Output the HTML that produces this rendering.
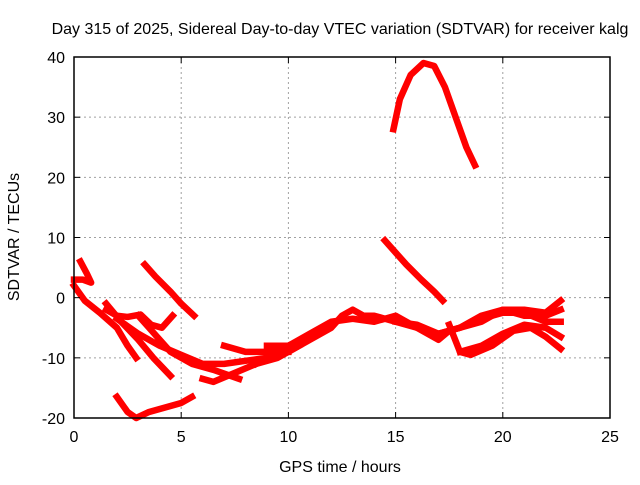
<!DOCTYPE html>
<html><head><meta charset="utf-8"><style>
body{margin:0;background:#fff}
svg text{font-family:"Liberation Sans",sans-serif;font-size:16px;fill:#000}
</style></head><body>
<svg id="chart" width="640" height="480">
<text x="340" y="34" text-anchor="middle">Day 315 of 2025, Sidereal Day-to-day VTEC variation (SDTVAR) for receiver kalg</text>
<text x="340" y="472" text-anchor="middle">GPS time / hours</text>
<text transform="translate(19,237) rotate(-90)" text-anchor="middle">SDTVAR / TECUs</text>
<g id="grid"></g><g id="series"></g><g id="axes"></g>
</svg>
<script>
const xTicks=[0,5,10,15,20,25];
const yTicks=[-20,-10,0,10,20,30,40];
const s1=[[14.9,28],[15.2,33],[15.7,37],[16.3,39],[16.8,38.5],[17.3,35],[17.8,30],[18.3,25],[18.7,22]];
const s2=[[14.5,9.5],[15,7.5],[15.5,5.5],[16.2,3],[16.8,1],[17.2,-0.5]];
const s3=[[3.3,5.5],[3.8,3.5],[4.5,1],[5,-1],[5.6,-3]];
const s4=[[0.3,6],[0.6,4],[0.8,2.5],[0.4,3],[0,3]];
const s5=[[0,2],[0.5,-0.5],[1.2,-2.5],[2,-5],[2.5,-8],[2.9,-10]];
const s6=[[1.5,-2],[2,-3],[2.5,-3.2],[3.1,-2.8],[3.6,-4.5],[4.1,-5],[4.6,-3]];
const s7=[[1.5,-1],[2.2,-4],[3,-7],[3.7,-10],[4.5,-13]];
const s8=[[3,-3],[3.5,-5],[4,-7],[4.5,-9],[5.5,-11],[6.5,-12],[7.7,-13.5]];
const s9=[[2,-3.5],[3,-6],[4,-8],[5,-9.5],[6,-11],[7,-11],[8,-10.5],[9,-10],[10,-8]];
const s10=[[6,-13.5],[6.5,-14],[7.5,-12.5],[8.5,-11],[9.5,-10],[10.5,-8]];
const s11=[[2,-16.5],[2.5,-19],[2.9,-20],[3.5,-19],[4.5,-18],[5,-17.5],[5.5,-16.5]];
const s12=[[8.5,-11],[9,-10],[10,-9],[11,-7],[12,-5],[12.5,-3],[13,-2],[13.5,-3],[14,-3],[15,-4],[16,-5],[16.5,-6],[17,-7],[17.5,-5.5],[18,-5],[19,-4],[20,-2],[21,-2],[22,-2.5],[22.7,-0.5]];
const s13=[[9,-8],[10,-8],[11,-6],[12,-4],[13,-3.5],[14,-4],[15,-3],[16,-5],[17,-6],[18,-5],[19,-3],[20,-2],[21,-3],[22,-3],[22.7,-2]];
const s14=[[15,-4],[16,-4.5],[17,-6],[18,-5],[19,-3.5],[20,-2.5],[21,-2.5],[22,-4],[22.7,-4]];
const s15=[[17.5,-4.5],[18,-9],[18.5,-9.5],[19.5,-8],[20.5,-5.5],[21.3,-5],[22,-6.5],[22.7,-8.5]];
const s16=[[18,-9],[19,-8],[20,-6],[21,-4.5],[22,-5],[22.7,-6.5]];
const s17=[[7,-8],[8,-9],[9,-9],[10,-9]];
const allSeries=[s1,s2,s3,s4,s5,s6,s7,s8,s9,s10,s11,s12,s13,s14,s15,s16,s17];
const L=74,R=610,T=57,B=418;
const xs=v=>L+(v-0)/25*(R-L);
const ys=v=>B-(v+20)/60*(B-T);
const NS="http://www.w3.org/2000/svg";
function mk(tag,attrs,parent){const e=document.createElementNS(NS,tag);for(const k in attrs)e.setAttribute(k,attrs[k]);parent.appendChild(e);return e;}
const grid=document.getElementById('grid'),axes=document.getElementById('axes'),ser=document.getElementById('series');
xTicks.forEach(t=>{
 if(t>0&&t<25){const g=mk('line',{x1:xs(t),x2:xs(t),y1:T,y2:B,stroke:'#a0a0a0','stroke-dasharray':'2,3'},grid);
 
 }
 mk('line',{x1:xs(t),x2:xs(t),y1:B,y2:B-6,stroke:'#000'},axes);
 mk('line',{x1:xs(t),x2:xs(t),y1:T,y2:T+6,stroke:'#000'},axes);
 const tx=mk('text',{x:xs(t),y:B+24,'text-anchor':'middle'},axes);tx.textContent=t;
 
 
});
yTicks.forEach(t=>{
 if(t>-20&&t<40){const g=mk('line',{x1:L,x2:R,y1:ys(t),y2:ys(t),stroke:'#a0a0a0','stroke-dasharray':'2,3'},grid);
 
 }
 mk('line',{x1:L,x2:L+6,y1:ys(t),y2:ys(t),stroke:'#000'},axes);
 mk('line',{x1:R,x2:R-6,y1:ys(t),y2:ys(t),stroke:'#000'},axes);
 const tx=mk('text',{x:L-9,y:ys(t)+6,'text-anchor':'end'},axes);tx.textContent=t;
 
 
});
const fr=mk('rect',{x:L,y:T,width:R-L,height:B-T,fill:'none',stroke:'#000','stroke-width':1.5},axes);


allSeries.forEach((s,i)=>{
 const p=mk('polyline',{points:s.map(d=>xs(d[0])+','+ys(d[1])).join(' '),fill:'none',stroke:'#ff0000','stroke-width':6.5,'stroke-linejoin':'round','stroke-linecap':'square'},ser);
 
 
});
</script>
</body></html>
